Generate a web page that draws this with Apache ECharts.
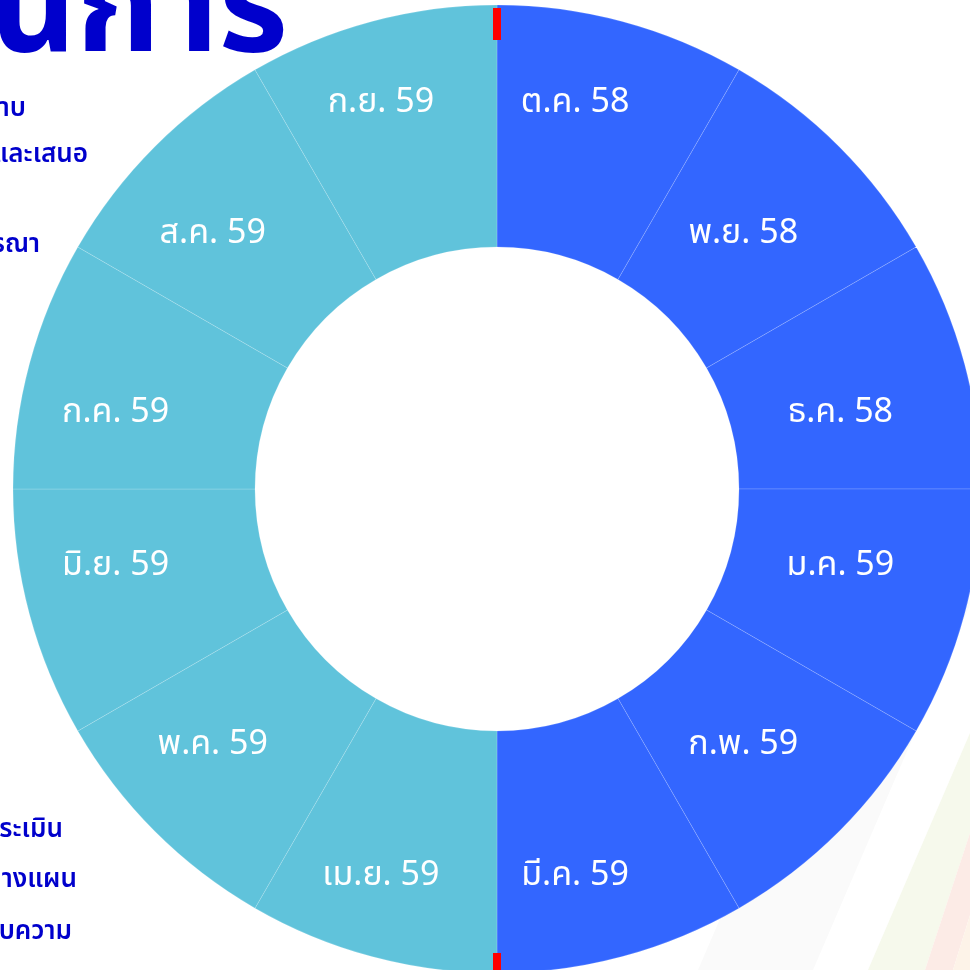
<!DOCTYPE html>
<html>
<head>
<meta charset="utf-8">
<script src="https://cdn.jsdelivr.net/npm/echarts@6/dist/echarts.min.js"></script>
<style>html,body{margin:0;padding:0;background:#fff}#main{width:970px;height:970px}</style>
</head>
<body>
<div id="main"></div>
<script>
const months = ['ต.ค. 58','พ.ย. 58','ธ.ค. 58','ม.ค. 59','ก.พ. 59','มี.ค. 59','เม.ย. 59','พ.ค. 59','มิ.ย. 59','ก.ค. 59','ส.ค. 59','ก.ย. 59'];
const values = [1,1,1,1,1,1,1,1,1,1,1,1];
const halves = ['first','first','first','first','first','first','second','second','second','second','second','second'];
const titleText = 'นการ';
const sideLines = ['าบ','และเสนอ','รณา','ระเมิน','างแผน','บความ'];

const halfColor = {first:'#3366FF', second:'#60C3DB'};
const CX = 497, CY = 489, R0 = 242, R1 = 484;
const FONT = '"Noto Sans", "Noto Sans Thai", "DejaVu Sans", sans-serif';

const chart = echarts.init(document.getElementById('main'), null, {renderer:'canvas'});

const sidePos = [[26,122],[88,168],[40,258],[63,843],[77,893],[72,945]];
const graphics = [
  {type:'polygon', silent:true, z:-10, shape:{points:[[698,970],[813,970],[972,600],[857,600]]}, style:{fill:'#FAFAFA'}},
  {type:'polygon', silent:true, z:-10, shape:{points:[[868,970],[925,970],[970,833],[970,733]]}, style:{fill:'#F6F9EC'}},
  {type:'polygon', silent:true, z:-10, shape:{points:[[925,970],[953,970],[970,915],[970,833]]}, style:{fill:'#FCEBE6'}},
  {type:'polygon', silent:true, z:-10, shape:{points:[[953,970],[970,970],[970,915]]}, style:{fill:'#FDF3E8'}},
  {type:'text', silent:true, z:-5, x:288, y:80, style:{text:titleText, fill:'#0000CC', font:'bold 134px ' + FONT, align:'right', verticalAlign:'bottom'}}
];
sideLines.forEach((t,i)=>{
  graphics.push({type:'text', silent:true, z:-5, x:sidePos[i][0], y:sidePos[i][1], style:{text:t, fill:'#0000CC', font:'600 26px ' + FONT, align:'right', verticalAlign:'bottom'}});
});
graphics.push({type:'rect', silent:true, z:100, shape:{x:CX-4, y:CY-R1+3, width:8, height:32}, style:{fill:'#FF0000'}});
graphics.push({type:'rect', silent:true, z:100, shape:{x:CX-4, y:CY+R1-20, width:8, height:40}, style:{fill:'#FF0000'}});

chart.setOption({
  animation:false,
  backgroundColor:'#ffffff',
  graphic: graphics,
  series:[{
    type:'pie',
    center:[CX, CY],
    radius:[R0, R1],
    startAngle:90,
    clockwise:true,
    avoidLabelOverlap:false,
    silent:true,
    z:2,
    itemStyle:{borderColor:'rgba(255,255,255,0.28)', borderWidth:0.6},
    label:{show:true, position:'inside', color:'#FFFFFF', fontSize:34, fontFamily:FONT, formatter:'{b}'},
    labelLine:{show:false},
    labelLayout:function(p){
      const r = p.labelRect;
      const cx = r.x + r.width/2;
      const cy = r.y + r.height/2;
      const d = cy - CY;
      const a = Math.abs(d)/350;
      const nd = d*(0.7 + 0.39*a);
      const ex = cx - CX;
      return {dx: 0.025*ex - 19, dy: nd - d};
    },
    emphasis:{disabled:true},
    data: months.map((m,i)=>({name:m, value:values[i], itemStyle:{color:halfColor[halves[i]]}}))
  }]
});
</script>
</body>
</html>
